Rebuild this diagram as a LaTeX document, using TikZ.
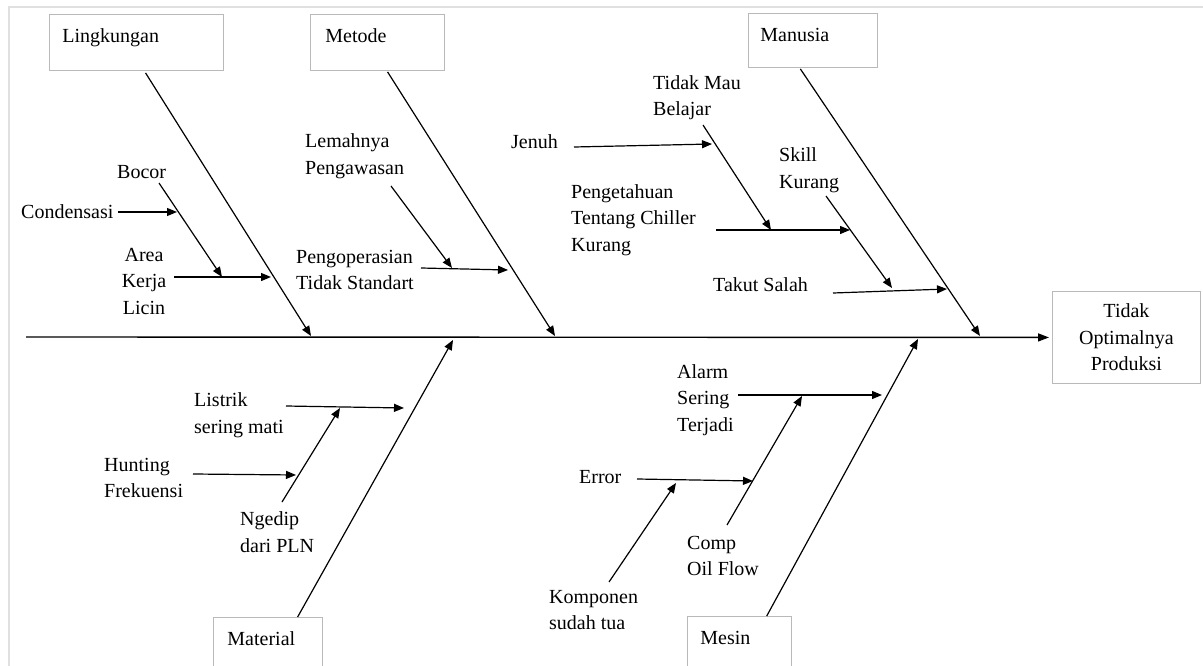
\documentclass[tikz,border=0pt]{standalone}
\usepackage{fontspec}
\setmainfont{Liberation Serif}
\usetikzlibrary{arrows.meta,calc}
\definecolor{boxgray}{RGB}{185,185,185}
\definecolor{framegray}{RGB}{224,224,224}
\begin{document}
\begin{tikzpicture}[x=1pt,y=-1pt,
  every node/.style={font=\fontsize{20}{26.5}\selectfont},
  cat/.style={draw=boxgray, line width=0.9pt, anchor=north west, inner ysep=14pt,
              text height=14pt, text depth=14pt, align=left},
  lbl/.style={anchor=west, inner sep=0pt, align=left},
  bone/.style={line width=1.2pt, -{Triangle[length=10pt,width=8pt]}},
  spine/.style={line width=1.4pt, -{Triangle[length=11pt,width=8pt]}}]
\useasboundingbox (0,0) rectangle (1203,666);
\clip (0,0) rectangle (1203,666);
% frame
\draw[framegray, line width=2.5pt] (9,670) -- (9,7) -- (1205,7);

% category boxes
\node[cat, inner xsep=13pt, text width=148pt] (lk) at (49,14) {Lingkungan};
\node[cat, inner xsep=15pt, text width=104pt] (me) at (310,14) {Metode};
\node[cat, inner xsep=12pt, text width=105pt, text depth=12pt] (ma) at (748,13) {Manusia};
\node[cat, inner xsep=14pt, text width=81pt, text depth=40pt] (mt) at (213,617) {Material};
\node[cat, inner xsep=13pt, text width=78pt, text depth=40pt] (ms) at (687,616) {Mesin};
\node[draw=boxgray, line width=0.9pt, anchor=north west, minimum width=148pt,
      minimum height=92pt, align=center, inner sep=0pt] (ef) at (1052,291)
      {Tidak\\Optimalnya\\Produksi};

% spine
\coordinate (spL) at (26,337);
\draw[spine, shorten >=3pt] (spL) -- (ef.west);

% main bones
\coordinate (lkE) at (311,336);
\coordinate (meE) at (555,336);
\coordinate (maE) at (980,336);
\coordinate (mtE) at (453,340);
\coordinate (msE) at (918,339);
\draw[bone] ($(lk.south west)!0.552!(lk.south east)$) ++(0,2) -- (lkE);
\draw[bone] ($(me.south west)!0.575!(me.south east)$) ++(0,1) -- (meE);
\draw[bone] ($(ma.south west)!0.403!(ma.south east)$) ++(0,1) -- (maE);
\draw[bone] ($(mt.north west)!0.77!(mt.north east)$) -- (mtE);
\draw[bone] ($(ms.north west)!0.76!(ms.north east)$) -- (msE);

% cause labels
\node[lbl] (cond) at (21,212) {Condensasi};
\node[lbl] (boc) at (117,172) {Bocor};
\node[anchor=center, inner sep=0pt, align=center] (area) at (144,281) {Area\\Kerja\\Licin};
\node[lbl] (lem) at (305,156) {Lemahnya\\Pengawasan};
\node[lbl] (peng) at (296,270) {Pengoperasian\\Tidak Standart};
\node[lbl] (jen) at (511,142) {Jenuh};
\node[lbl] (tmb) at (653,97.5) {Tidak Mau\\Belajar};
\node[lbl] (ptc) at (571,220) {Pengetahuan\\Tentang Chiller\\Kurang};
\node[lbl] (skl) at (779,170) {Skill\\Kurang};
\node[lbl] (tks) at (713,285) {Takut Salah};
\node[lbl] (lis) at (194,415) {Listrik\\sering mati};
\node[lbl] (hun) at (104,478) {Hunting\\Frekuensi};
\node[lbl] (ngd) at (240,532) {Ngedip\\dari PLN};
\node[lbl] (alm) at (677,400) {Alarm\\Sering\\Terjadi};
\node[lbl] (err) at (579,477) {Error};
\node[lbl] (kom) at (549,610) {Komponen\\sudah tua};
\node[lbl] (cof) at (687,556) {Comp\\Oil Flow};

% sub-bone coordinates
\coordinate (condS) at (118,212);  \coordinate (condE) at (177,212);
\coordinate (bocS) at (159,183);   \coordinate (bocE) at (222,277);
\coordinate (areaS) at (174,277);  \coordinate (areaE) at (271,277);
\coordinate (lemS) at (391,186);   \coordinate (lemE) at (452,268);
\coordinate (pengS) at (421,268);  \coordinate (pengE) at (508,270);
\coordinate (jenS) at (574,147);   \coordinate (jenE) at (712,144);
\coordinate (tmbS) at (703,125);   \coordinate (tmbE) at (771,230);
\coordinate (ptcS) at (716,230);   \coordinate (ptcE) at (850,230);
\coordinate (sklS) at (826,196);   \coordinate (sklE) at (892,288);
\coordinate (tksS) at (833,293);   \coordinate (tksE) at (947,289);
\coordinate (lisS) at (286,406);   \coordinate (lisE) at (404,408);
\coordinate (hunS) at (193,474);   \coordinate (hunE) at (296,475);
\coordinate (ngdS) at (282,502);   \coordinate (ngdE) at (340,408);
\coordinate (almS) at (738,395);   \coordinate (almE) at (882,395);
\coordinate (errS) at (637,479);   \coordinate (errE) at (753,481);
\coordinate (komS) at (609,582);   \coordinate (komE) at (676,483);
\coordinate (cofS) at (727,525);   \coordinate (cofE) at (802,396);

\foreach \n in {cond,boc,area,lem,peng,jen,tmb,ptc,skl,tks,lis,hun,ngd,alm,err,kom,cof}
  \draw[bone] (\n S) -- (\n E);
\end{tikzpicture}
\end{document}
